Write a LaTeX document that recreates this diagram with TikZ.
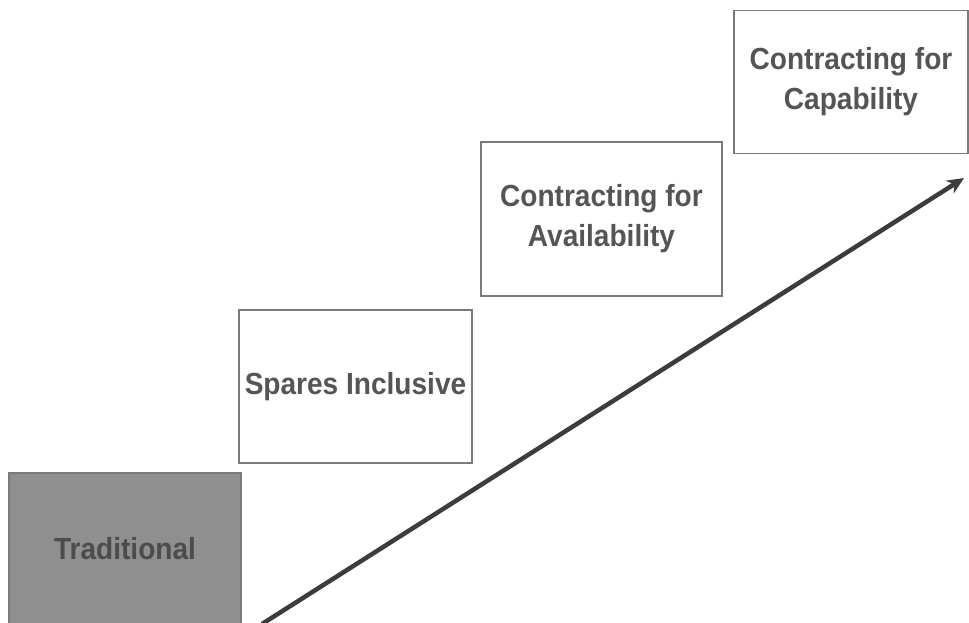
\documentclass[tikz,border=0pt]{standalone}
\usepackage{fontspec}
\setmainfont{Liberation Sans}[FakeStretch=0.92]
\usetikzlibrary{arrows.meta}
\definecolor{txt}{HTML}{555555}
\definecolor{edge}{HTML}{7A7A7A}
\definecolor{tradfill}{HTML}{8F8F8F}
\definecolor{arr}{HTML}{3C3C3C}
\tikzset{
  stage/.style={draw=edge, line width=1.4pt, fill=white, inner sep=0pt,
    font=\fontsize{30.5}{40}\selectfont\bfseries, text=txt, align=center},
}
\begin{document}
\begin{tikzpicture}[x=1pt,y=-1pt]
\useasboundingbox (0,0) rectangle (969,623);
\node[stage, fill=tradfill, text=black!70, minimum width=232pt, minimum height=152pt] (trad) at (125,549) {Traditional};
\node[stage, minimum width=233pt, minimum height=153pt] (spares) at (355.5,386.5) {Spares Inclusive};
\node[stage, minimum width=241pt, minimum height=154pt] (avail) at (601.5,219) {Contracting for\\Availability};
\node[stage, minimum width=234pt, minimum height=143pt] (capab) at (851,82) {Contracting for\\Capability};
\coordinate (s) at (262,624);
\coordinate (e) at (964,178);
\draw[arr, line width=4.5pt, -{Stealth[length=17pt,width=15pt]}] (s) -- (e);
\end{tikzpicture}
\end{document}
